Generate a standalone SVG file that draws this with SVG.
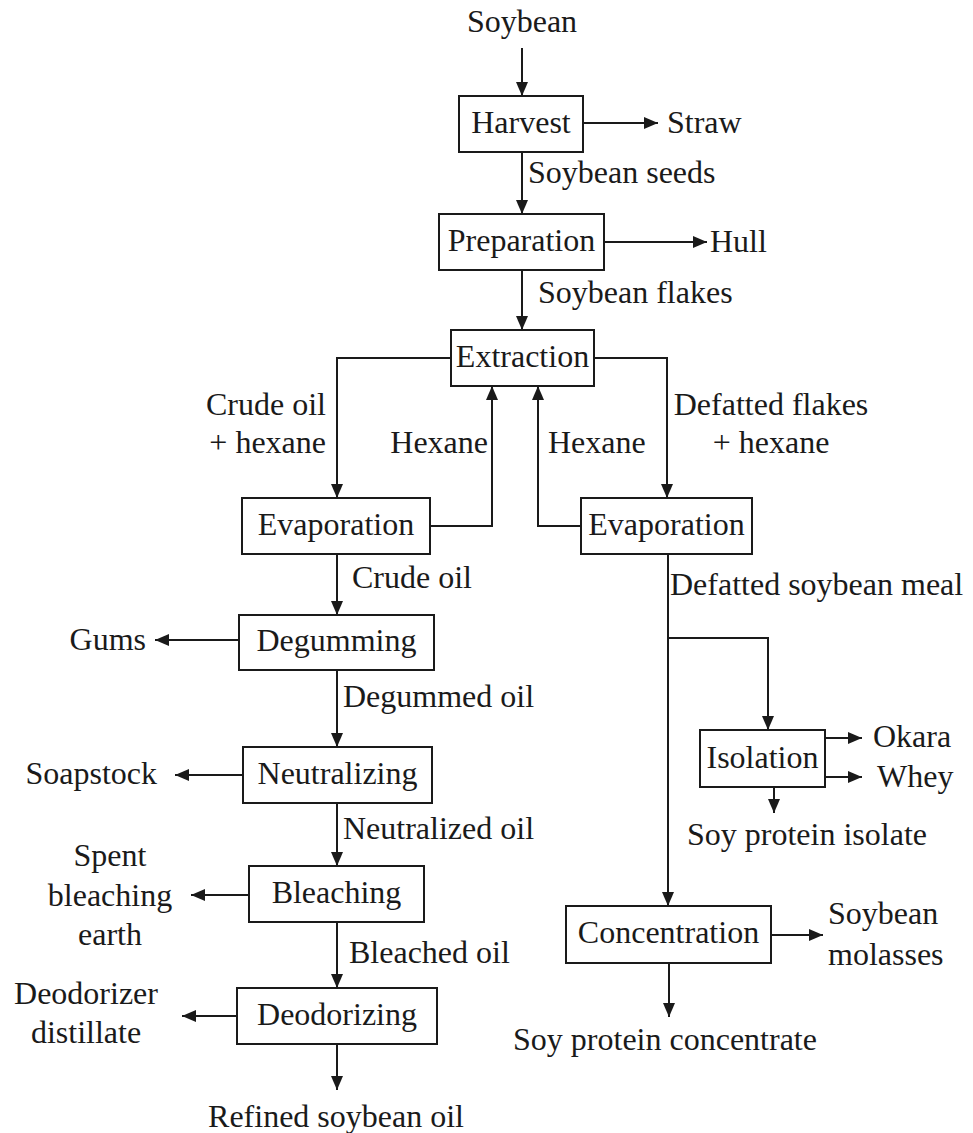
<svg xmlns="http://www.w3.org/2000/svg" width="973" height="1133" viewBox="0 0 973 1133">
<style>
text{font-family:"Liberation Serif","Times New Roman",serif;font-size:32px;fill:#1a1a1a}
.c{text-anchor:middle}
.e{text-anchor:end}
.box{fill:#fff;stroke:#1a1a1a;stroke-width:2}
.ln{fill:none;stroke:#1a1a1a;stroke-width:2;marker-end:url(#ah)}
</style>
<defs>
<marker id="ah" viewBox="0 0 14 12" refX="14" refY="6" markerWidth="14" markerHeight="12" markerUnits="userSpaceOnUse" orient="auto">
<path d="M0,0 L14,6 L0,12 z" fill="#1a1a1a"/>
</marker>
</defs>
<rect width="973" height="1133" fill="#fff"/>
<g id="connectors">
<path class="ln" d="M522,48 V96"/>
<path class="ln" d="M583,123 H658"/>
<path class="ln" d="M522,152 V214"/>
<path class="ln" d="M604,242 H707"/>
<path class="ln" d="M522,270 V330"/>
<path class="ln" d="M451,358 H337 V498"/>
<path class="ln" d="M430,526 H492 V386"/>
<path class="ln" d="M581,526 H538 V386"/>
<path class="ln" d="M594,358 H667 V498"/>
<path class="ln" d="M337,554 V615"/>
<path class="ln" d="M239,640 H155"/>
<path class="ln" d="M337,670 V747"/>
<path class="ln" d="M243,775 H175"/>
<path class="ln" d="M337,803 V866"/>
<path class="ln" d="M249,895 H191"/>
<path class="ln" d="M337,922 V988"/>
<path class="ln" d="M237,1016 H182"/>
<path class="ln" d="M337,1044 V1090"/>
<path class="ln" d="M668,554 V906"/>
<path class="ln" d="M668,638 H768 V730"/>
<path class="ln" d="M825,738 H862"/>
<path class="ln" d="M825,777 H862"/>
<path class="ln" d="M774,787 V813"/>
<path class="ln" d="M771,935 H823"/>
<path class="ln" d="M669,963 V1017"/>
</g>
<g id="labels">
<text class="c" x="522" y="32">Soybean</text>
<text x="667" y="133">Straw</text>
<text x="528" y="183">Soybean seeds</text>
<text x="710" y="252">Hull</text>
<text x="538" y="303">Soybean flakes</text>
<text class="e" x="326" y="415">Crude oil</text>
<text class="e" x="326" y="453">+ hexane</text>
<text class="e" x="488" y="453">Hexane</text>
<text x="548" y="453">Hexane</text>
<text class="c" x="771" y="415">Defatted flakes</text>
<text class="c" x="771" y="453">+ hexane</text>
<text x="352" y="588">Crude oil</text>
<text x="670" y="595">Defatted soybean meal</text>
<text class="e" x="146" y="650">Gums</text>
<text x="343" y="707">Degummed oil</text>
<text class="e" x="157" y="784">Soapstock</text>
<text x="343" y="839">Neutralized oil</text>
<text class="c" x="110" y="866">Spent</text>
<text class="c" x="110" y="906">bleaching</text>
<text class="c" x="110" y="945">earth</text>
<text x="349" y="963">Bleached oil</text>
<text class="c" x="86" y="1004">Deodorizer</text>
<text class="c" x="86" y="1043">distillate</text>
<text class="c" x="336" y="1127">Refined soybean oil</text>
<text x="873" y="747">Okara</text>
<text x="877" y="787">Whey</text>
<text x="687" y="845">Soy protein isolate</text>
<text x="828" y="924">Soybean</text>
<text x="828" y="965">molasses</text>
<text class="c" x="665" y="1050">Soy protein concentrate</text>
</g>
<g id="n-harvest"><rect class="box" x="459" y="96" width="124" height="56"/><text class="c" x="521" y="133">Harvest</text></g>
<g id="n-preparation"><rect class="box" x="439" y="214" width="165" height="56"/><text class="c" x="521.5" y="251">Preparation</text></g>
<g id="n-extraction"><rect class="box" x="451" y="330" width="143" height="56"/><text class="c" x="522.5" y="367">Extraction</text></g>
<g id="n-evap-left"><rect class="box" x="242" y="498" width="188" height="56"/><text class="c" x="336" y="535">Evaporation</text></g>
<g id="n-evap-right"><rect class="box" x="581" y="498" width="171" height="56"/><text class="c" x="666.5" y="535">Evaporation</text></g>
<g id="n-degumming"><rect class="box" x="239" y="615" width="195" height="55"/><text class="c" x="336.5" y="651">Degumming</text></g>
<g id="n-neutralizing"><rect class="box" x="243" y="747" width="189" height="56"/><text class="c" x="337.5" y="784">Neutralizing</text></g>
<g id="n-bleaching"><rect class="box" x="249" y="866" width="175" height="56"/><text class="c" x="336.5" y="903">Bleaching</text></g>
<g id="n-deodorizing"><rect class="box" x="237" y="988" width="200" height="56"/><text class="c" x="337" y="1025">Deodorizing</text></g>
<g id="n-isolation"><rect class="box" x="700" y="730" width="125" height="57"/><text class="c" x="762.5" y="768">Isolation</text></g>
<g id="n-concentration"><rect class="box" x="566" y="906" width="205" height="57"/><text class="c" x="668.5" y="943">Concentration</text></g>
</svg>
